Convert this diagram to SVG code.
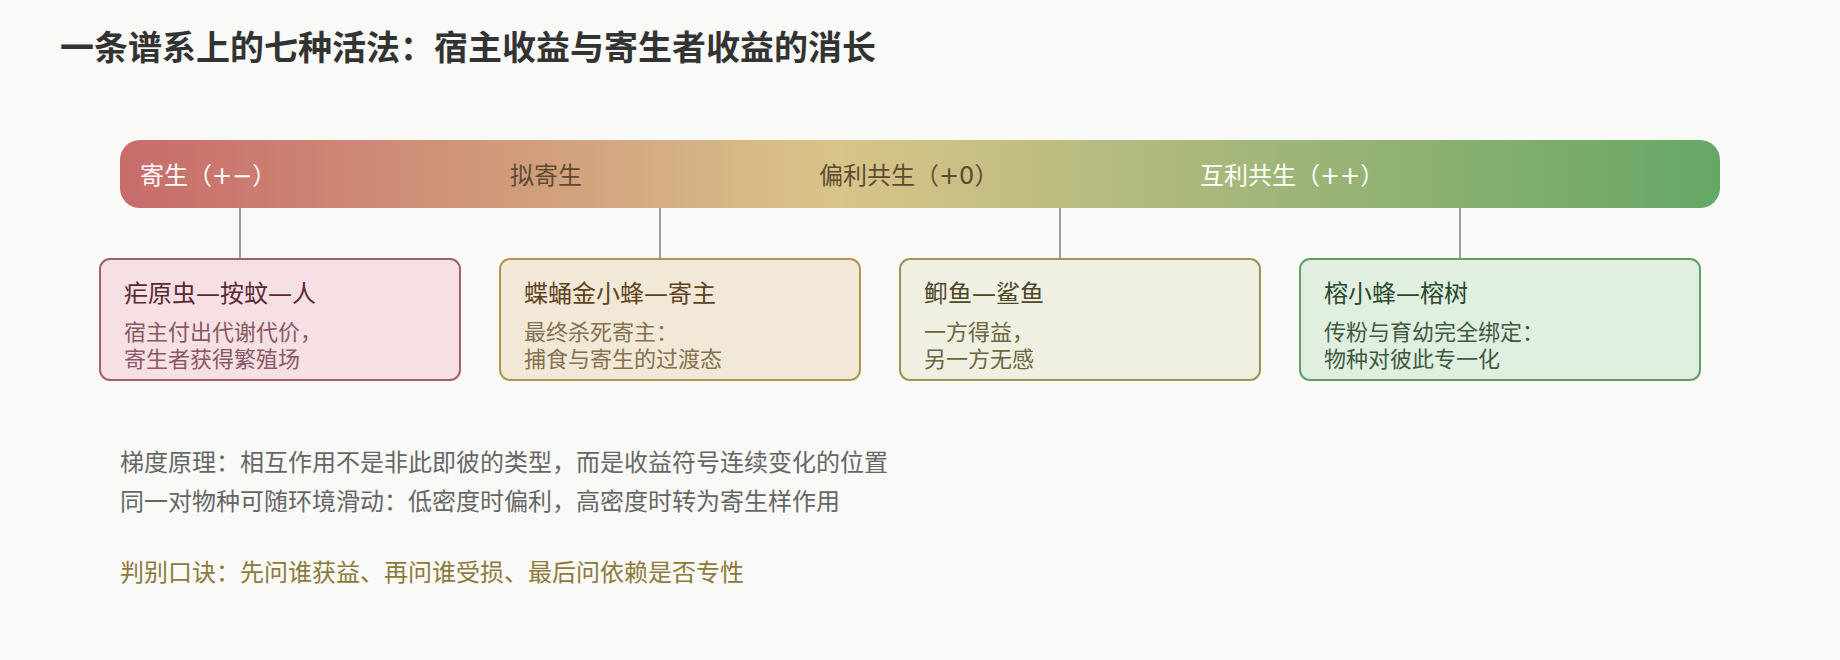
<svg xmlns="http://www.w3.org/2000/svg" width="1840" height="660" viewBox="0 0 1840 660">
  <defs>
    <linearGradient id="spectrum" x1="0" y1="0" x2="1" y2="0">
      <stop offset="0" stop-color="#c86b6b"/>
      <stop offset="0.45" stop-color="#d9c48a"/>
      <stop offset="1" stop-color="#66a766"/>
    </linearGradient>
    <style>
      text { font-family: "DejaVu Sans", "Noto Sans CJK SC", sans-serif; }
      .title { font-size: 34px; font-weight: 700; fill: #333333; }
      .band { font-size: 24px; }
      .band-light { fill: #ffffff; }
      .band-dark { fill: #5e4a33; }
      .conn { stroke: #9c9c9c; stroke-width: 2; fill: none; }
      .box { stroke-width: 2; }
      .h { font-size: 24px; }
      .s { font-size: 22px; }
      .note { font-size: 24px; fill: #666666; }
      .tip { font-size: 24px; fill: #8c7a3c; }
    </style>
  </defs>
  <rect x="0" y="0" width="1840" height="660" fill="#f9f9f7"/>

  <text class="title" x="60" y="60">一条谱系上的七种活法：宿主收益与寄生者收益的消长</text>

  <g id="spectrum-bar">
    <rect x="120" y="140" width="1600" height="68" rx="20" fill="url(#spectrum)"/>
    <text class="band band-light" x="140" y="184">寄生（+−）</text>
    <text class="band band-dark" x="510" y="184">拟寄生</text>
    <text class="band band-dark" x="819" y="184">偏利共生（+0）</text>
    <text class="band band-light" x="1200" y="184">互利共生（++）</text>
  </g>

  <g id="connectors">
    <line class="conn" x1="240" y1="208" x2="240" y2="259"/>
    <line class="conn" x1="660" y1="208" x2="660" y2="259"/>
    <line class="conn" x1="1060" y1="208" x2="1060" y2="259"/>
    <line class="conn" x1="1460" y1="208" x2="1460" y2="259"/>
  </g>

  <g id="node-parasitism">
    <rect class="box" x="100" y="259" width="360" height="121" rx="10" fill="#f6e0e4" stroke="#a0606e"/>
    <text class="h" x="124" y="302" fill="#5a2835">疟原虫—按蚊—人</text>
    <text class="s" x="124" y="340" fill="#8a5864">宿主付出代谢代价，</text>
    <text class="s" x="124" y="367" fill="#8a5864">寄生者获得繁殖场</text>
  </g>

  <g id="node-parasitoid">
    <rect class="box" x="500" y="259" width="360" height="121" rx="10" fill="#f1e8d8" stroke="#b0964f"/>
    <text class="h" x="524" y="302" fill="#5e4220">蝶蛹金小蜂—寄主</text>
    <text class="s" x="524" y="340" fill="#85704f">最终杀死寄主：</text>
    <text class="s" x="524" y="367" fill="#85704f">捕食与寄生的过渡态</text>
  </g>

  <g id="node-commensalism">
    <rect class="box" x="900" y="259" width="360" height="121" rx="10" fill="#f0f0e2" stroke="#9a9455"/>
    <text class="h" x="924" y="302" fill="#4a4626">䲟鱼—鲨鱼</text>
    <text class="s" x="924" y="340" fill="#6a6640">一方得益，</text>
    <text class="s" x="924" y="367" fill="#6a6640">另一方无感</text>
  </g>

  <g id="node-mutualism">
    <rect class="box" x="1300" y="259" width="400" height="121" rx="10" fill="#e0efe0" stroke="#5f9f62"/>
    <text class="h" x="1324" y="302" fill="#27472e">榕小蜂—榕树</text>
    <text class="s" x="1324" y="340" fill="#3e5a42">传粉与育幼完全绑定：</text>
    <text class="s" x="1324" y="367" fill="#3e5a42">物种对彼此专一化</text>
  </g>

  <g id="notes">
    <text class="note" x="120" y="471">梯度原理：相互作用不是非此即彼的类型，而是收益符号连续变化的位置</text>
    <text class="note" x="120" y="510">同一对物种可随环境滑动：低密度时偏利，高密度时转为寄生样作用</text>
    <text class="tip" x="120" y="581">判别口诀：先问谁获益、再问谁受损、最后问依赖是否专性</text>
  </g>
</svg>
